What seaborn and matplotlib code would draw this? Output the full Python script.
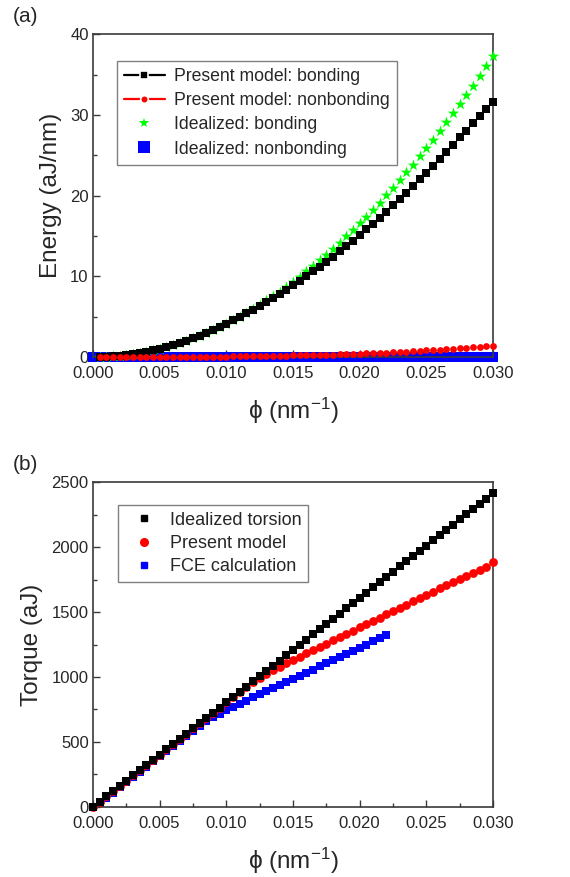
import matplotlib
matplotlib.use("Agg")
import matplotlib.pyplot as plt
from matplotlib.lines import Line2D
from matplotlib.ticker import MultipleLocator, FormatStrFormatter
import seaborn as sns
import pandas as pd

# ---------------- data ----------------
phi_a = [0.0005 * k for k in range(1, 61)]           # 0.0005 ... 0.030
phi_a0 = [0.0005 * k for k in range(0, 61)]          # 0 ... 0.030

present_bonding = [0.01, 0.04, 0.09, 0.17, 0.26, 0.37, 0.51, 0.66, 0.84, 1.04,
                   1.25, 1.49, 1.75, 2.03, 2.33, 2.65, 2.99, 3.35, 3.73, 4.12,
                   4.53, 4.96, 5.40, 5.85, 6.32, 6.80, 7.29, 7.80, 8.33, 8.88,
                   9.43, 10.01, 10.59, 11.19, 11.81, 12.43, 13.08, 13.74, 14.41, 15.10,
                   15.80, 16.52, 17.26, 18.01, 18.78, 19.56, 20.36, 21.17, 22.00, 22.80,
                   23.65, 24.50, 25.40, 26.30, 27.20, 28.05, 28.95, 29.85, 30.75, 31.65]
present_nonbonding = [0.00, 0.00, 0.00, 0.00, 0.00, 0.00, 0.00, 0.00, 0.00, 0.01,
                      0.01, 0.01, 0.01, 0.02, 0.02, 0.03, 0.03, 0.04, 0.04, 0.05,
                      0.06, 0.07, 0.08, 0.09, 0.10, 0.11, 0.13, 0.14, 0.16, 0.18,
                      0.19, 0.21, 0.23, 0.25, 0.28, 0.30, 0.33, 0.36, 0.38, 0.41,
                      0.45, 0.48, 0.52, 0.55, 0.59, 0.63, 0.67, 0.72, 0.76, 0.81,
                      0.86, 0.91, 0.96, 1.02, 1.08, 1.14, 1.20, 1.26, 1.33, 1.40]
ideal_bonding = [0.01, 0.04, 0.09, 0.17, 0.26, 0.37, 0.51, 0.66, 0.84, 1.04,
                 1.25, 1.49, 1.75, 2.03, 2.33, 2.65, 2.99, 3.35, 3.74, 4.14,
                 4.56, 5.01, 5.48, 5.96, 6.47, 7.00, 7.55, 8.11, 8.70, 9.32,
                 9.95, 10.60, 11.27, 11.96, 12.68, 13.41, 14.17, 14.95, 15.74, 16.56,
                 17.40, 18.26, 19.14, 20.04, 20.96, 21.90, 22.86, 23.85, 24.85, 25.88,
                 26.92, 27.99, 29.07, 30.18, 31.31, 32.46, 33.63, 34.82, 36.03, 37.26]
ideal_nonbonding = [0.0] * 61

phi_b = [0.0005 * k for k in range(0, 61)]
ideal_torsion = [0, 40, 81, 121, 161, 201, 242, 282, 322, 362,
                 403, 443, 483, 523, 564, 604, 644, 684, 725, 765,
                 805, 845, 886, 926, 966, 1006, 1047, 1087, 1127, 1167,
                 1208, 1248, 1288, 1328, 1369, 1409, 1449, 1489, 1530, 1570,
                 1610, 1650, 1691, 1731, 1771, 1811, 1852, 1892, 1932, 1972,
                 2013, 2053, 2093, 2133, 2174, 2214, 2254, 2294, 2335, 2375, 2415]
present_model = [0, 40, 81, 121, 161, 201, 242, 282, 322, 362,
                 403, 443, 483, 523, 564, 604, 644, 684, 725, 765,
                 805, 844, 884, 925, 962, 995, 1025, 1053, 1080, 1106,
                 1132, 1158, 1183, 1208, 1233, 1258, 1283, 1308, 1333, 1358,
                 1383, 1408, 1433, 1458, 1483, 1508, 1533, 1558, 1583, 1608,
                 1633, 1658, 1683, 1707, 1731, 1755, 1779, 1803, 1827, 1851, 1888]
phi_fce = [0.0005 * k for k in range(1, 45)]          # 0.0005 ... 0.022
fce = [30, 70, 110, 150, 190, 230, 270, 310, 350, 390,
       428, 468, 508, 548, 588, 626, 660, 690, 718, 745,
       770, 795, 819, 843, 867, 891, 915, 939, 962, 986,
       1010, 1034, 1058, 1082, 1106, 1130, 1154, 1178, 1202, 1226,
       1250, 1274, 1298, 1322]

legend_a = ["Present model: bonding", "Present model: nonbonding",
            "Idealized: bonding", "Idealized: nonbonding"]
legend_b = ["Idealized torsion", "Present model", "FCE calculation"]

# ---------------- style ----------------
sns.set_style("ticks")
plt.rcParams["font.family"] = ["Liberation Sans", "DejaVu Sans"]
plt.rcParams["mathtext.fontset"] = "custom"
plt.rcParams["mathtext.rm"] = "Liberation Sans"
plt.rcParams["mathtext.default"] = "regular"

BLACK, RED, GREEN, BLUE = "#000000", "#ff0000", "#00ff00", "#0000ff"
SPINE = "#3a3a3a"

fig = plt.figure(figsize=(5.7, 8.77), dpi=100)
ax_a = fig.add_axes([0.163, 0.593, 0.702, 0.368])
ax_b = fig.add_axes([0.163, 0.080, 0.702, 0.370])

def style_axes(ax, ymax, ymajor, yminor, ylabel):
    ax.set_xlim(0, 0.030)
    ax.set_ylim(0, ymax)
    ax.xaxis.set_major_locator(MultipleLocator(0.005))
    ax.xaxis.set_minor_locator(MultipleLocator(0.0025))
    ax.xaxis.set_major_formatter(FormatStrFormatter("%.3f"))
    ax.yaxis.set_major_locator(MultipleLocator(ymajor))
    ax.yaxis.set_minor_locator(MultipleLocator(yminor))
    ax.yaxis.set_major_formatter(FormatStrFormatter("%d"))
    ax.tick_params(which="both", direction="in", top=False, right=False,
                   color=SPINE, labelsize=12)
    ax.tick_params(axis="x", pad=6.5)
    ax.tick_params(axis="y", pad=3)
    ax.tick_params(which="major", length=5, width=1.0)
    ax.tick_params(which="minor", length=3, width=1.0)
    for s in ax.spines.values():
        s.set_color(SPINE)
        s.set_linewidth(1.2)
    ax.set_xlabel("\u03d5 (nm$^{-1}$)", fontsize=17.5, labelpad=11)
    ax.set_ylabel(ylabel, fontsize=17.5, labelpad=6)

# ---------------- panel (a) ----------------
df_bn = pd.DataFrame({"phi": phi_a0, "E": ideal_nonbonding})
df_ib = pd.DataFrame({"phi": phi_a, "E": ideal_bonding})
df_pb = pd.DataFrame({"phi": phi_a, "E": present_bonding})
df_pn = pd.DataFrame({"phi": phi_a, "E": present_nonbonding})

sns.scatterplot(data=df_bn, x="phi", y="E", ax=ax_a, marker="s", s=52,
                color=BLUE, linewidth=0, zorder=2, clip_on=False, legend=False)
sns.scatterplot(data=df_ib, x="phi", y="E", ax=ax_a, marker="*", s=75,
                color=GREEN, linewidth=0, zorder=3, clip_on=False, legend=False)
sns.scatterplot(data=df_pb, x="phi", y="E", ax=ax_a, marker="s", s=36,
                color=BLACK, linewidth=0, zorder=4, clip_on=False, legend=False)
sns.scatterplot(data=df_pn, x="phi", y="E", ax=ax_a, marker="o", s=24,
                color=RED, linewidth=0, zorder=5, clip_on=False, legend=False)
style_axes(ax_a, 40, 10, 5, "Energy (aJ/nm)")

handles_a = [
    Line2D([], [], color=BLACK, lw=1.6, marker="s", ms=5.5,
           markeredgecolor="white", markeredgewidth=1.2),
    Line2D([], [], color=RED, lw=1.6, marker="o", ms=5.5,
           markeredgecolor="white", markeredgewidth=1.2),
    Line2D([], [], color=GREEN, ls="none", marker="*", ms=7, markeredgewidth=0),
    Line2D([], [], color=BLUE, ls="none", marker="s", ms=8, markeredgewidth=0),
]
leg_a = ax_a.legend(handles_a, legend_a, loc="upper left",
                    bbox_to_anchor=(0.06, 0.916), borderaxespad=0,
                    fontsize=12.7, frameon=True, fancybox=False, framealpha=1,
                    edgecolor="#808080", handlelength=2.3, handletextpad=0.55,
                    labelspacing=0.4, borderpad=0.4)
leg_a.get_frame().set_linewidth(1.0)

# ---------------- panel (b) ----------------
df_fce = pd.DataFrame({"phi": phi_fce, "T": fce})
df_pm = pd.DataFrame({"phi": phi_b, "T": present_model})
df_it = pd.DataFrame({"phi": phi_b, "T": ideal_torsion})

sns.scatterplot(data=df_fce, x="phi", y="T", ax=ax_b, marker="s", s=32,
                color=BLUE, linewidth=0, zorder=2, clip_on=False, legend=False)
sns.scatterplot(data=df_pm, x="phi", y="T", ax=ax_b, marker="o", s=40,
                color=RED, linewidth=0, zorder=3, clip_on=False, legend=False)
sns.scatterplot(data=df_it, x="phi", y="T", ax=ax_b, marker="s", s=38,
                color=BLACK, linewidth=0, zorder=4, clip_on=False, legend=False)
style_axes(ax_b, 2500, 500, 250, "Torque (aJ)")

handles_b = [
    Line2D([], [], color=BLACK, ls="none", marker="s", ms=5),
    Line2D([], [], color=RED, ls="none", marker="o", ms=5.5),
    Line2D([], [], color=BLUE, ls="none", marker="s", ms=4.5),
]
leg_b = ax_b.legend(handles_b, legend_b, loc="upper left",
                    bbox_to_anchor=(0.0625, 0.929), borderaxespad=0,
                    fontsize=13, frameon=True, fancybox=False, framealpha=1,
                    edgecolor="#808080", handlelength=2.2, handletextpad=0.35,
                    labelspacing=0.35, borderpad=0.35)
leg_b.get_frame().set_linewidth(1.0)

# panel labels
fig.text(0.022, 0.981, "(a)", fontsize=15, va="center", ha="left")
fig.text(0.022, 0.470, "(b)", fontsize=15, va="center", ha="left")

fig.savefig("out.png", dpi=100)
